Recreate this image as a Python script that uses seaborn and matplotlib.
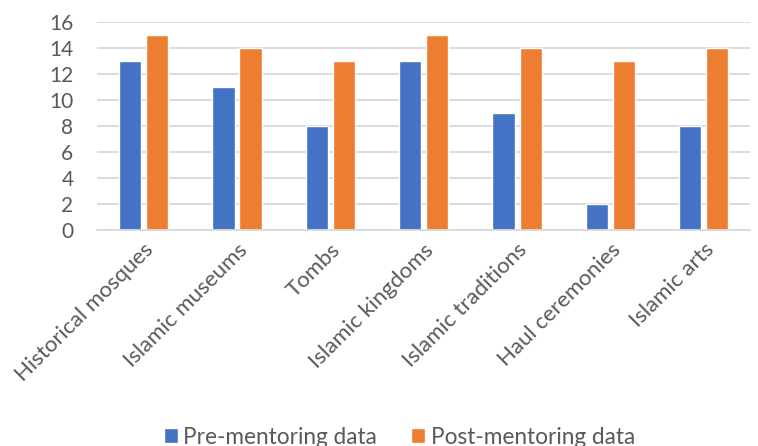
import matplotlib
matplotlib.use("Agg")
import matplotlib.pyplot as plt
import seaborn as sns
import pandas as pd

categories = ["Historical mosques", "Islamic museums", "Tombs", "Islamic kingdoms",
              "Islamic traditions", "Haul ceremonies", "Islamic arts"]
pre_mentoring = [13, 11, 8, 13, 9, 2, 8]
post_mentoring = [15, 14, 13, 15, 14, 13, 14]
series_names = ["Pre-mentoring data", "Post-mentoring data"]
y_ticks = [0, 2, 4, 6, 8, 10, 12, 14, 16]

df = pd.DataFrame({
    "topic": categories * 2,
    "value": pre_mentoring + post_mentoring,
    "series": [series_names[0]] * len(categories) + [series_names[1]] * len(categories),
})

sns.set_style("white")
plt.rcParams["font.family"] = ["Lato", "DejaVu Sans"]

fig = plt.figure(figsize=(7.58, 4.46), dpi=100)
ax = fig.add_axes([0.128, 0.484, 0.862, 0.467])

sns.barplot(data=df, x="topic", y="value", hue="series",
            palette=["#4472C4", "#ED7D31"], saturation=1, width=0.58, gap=0.18,
            ax=ax, legend=True)

ax.set_ylim(0, 16)
ax.set_yticks(y_ticks)
ax.yaxis.grid(True, color="#D9D9D9", linewidth=1.3)
ax.set_axisbelow(True)
for s in ["top", "right", "left"]:
    ax.spines[s].set_visible(False)
ax.spines["bottom"].set_color("#D9D9D9")
ax.spines["bottom"].set_linewidth(1.3)
ax.set_xlabel("")
ax.set_ylabel("")
ax.tick_params(axis="y", length=0, labelsize=15, colors="#595959", pad=17)
ax.tick_params(axis="x", length=0, labelsize=16, colors="#595959", pad=7)
plt.setp(ax.get_xticklabels(), rotation=45, ha="right", rotation_mode="anchor")

# legend sits a bit right of the figure centre, as in the original
ax.legend(loc="center", bbox_to_anchor=(0.527, 1 - 437 / 446), bbox_transform=fig.transFigure,
          ncol=2, frameon=False, fontsize=16.3, labelcolor="#595959",
          handlelength=0.6, handleheight=0.6, columnspacing=1.5, handletextpad=0.25)

fig.savefig("out.png", dpi=100)
